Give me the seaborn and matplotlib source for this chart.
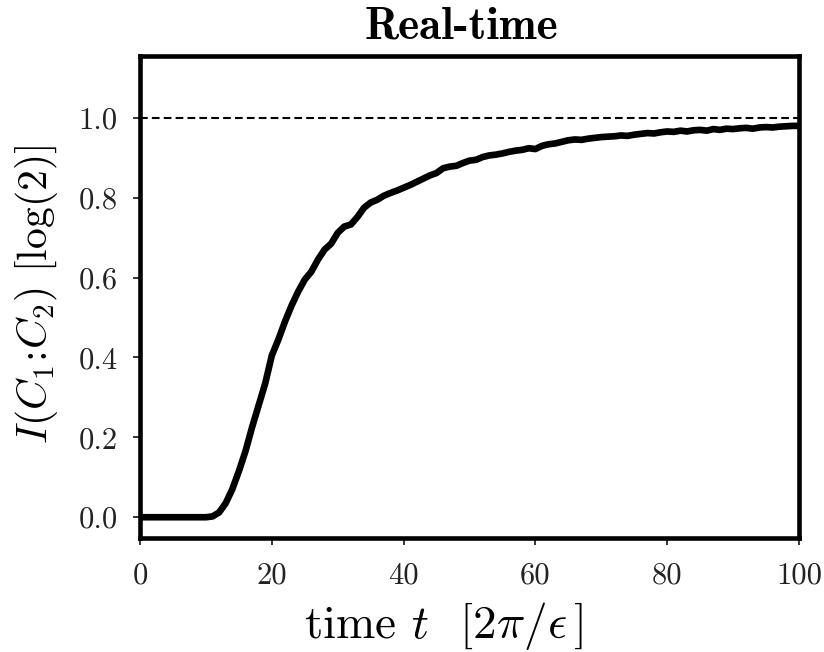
import numpy as np
import pandas as pd
import matplotlib
matplotlib.use("Agg")
import matplotlib.pyplot as plt
import seaborn as sns

time_t = list(range(0, 101))
mutual_info = [
    0.0, 0.0, 0.0, 0.0, 0.0, 0.0, 0.0, 0.0, 0.0, 0.0, 0.0,
    0.002, 0.012, 0.035, 0.070, 0.115, 0.165, 0.225, 0.280, 0.335, 0.405,
    0.445, 0.490, 0.530, 0.565, 0.595, 0.615, 0.645, 0.670, 0.685, 0.712,
    0.728, 0.733, 0.752, 0.775, 0.788, 0.795, 0.805, 0.812, 0.818, 0.825,
    0.832, 0.840, 0.848, 0.856, 0.862, 0.874, 0.878, 0.880, 0.887, 0.893,
    0.895, 0.902, 0.906, 0.908, 0.911, 0.915, 0.918, 0.920, 0.924, 0.922,
    0.930, 0.934, 0.936, 0.940, 0.944, 0.946, 0.945, 0.948, 0.950, 0.952,
    0.953, 0.954, 0.956, 0.955, 0.958, 0.960, 0.962, 0.961, 0.964, 0.966,
    0.965, 0.968, 0.966, 0.969, 0.970, 0.968, 0.972, 0.970, 0.973, 0.972,
    0.974, 0.975, 0.973, 0.976, 0.977, 0.976, 0.978, 0.979, 0.980, 0.980,
]
reference_level = 1.0
x_ticks = [0, 20, 40, 60, 80, 100]
y_ticks = [0.0, 0.2, 0.4, 0.6, 0.8, 1.0]

sns.set_theme(style="white")
plt.rcParams["font.family"] = ["cmr10", "DejaVu Serif"]
plt.rcParams["mathtext.fontset"] = "cm"
plt.rcParams["axes.formatter.use_mathtext"] = True
plt.rcParams["axes.unicode_minus"] = False
plt.rcParams["text.color"] = "black"
plt.rcParams["axes.labelcolor"] = "black"

df = pd.DataFrame({"t": time_t, "I": mutual_info})

fig, ax = plt.subplots(figsize=(8.24, 6.52), dpi=100)
fig.subplots_adjust(left=140 / 824, right=799 / 824, top=1 - 56 / 652, bottom=1 - 538 / 652)

ax.axhline(reference_level, color="black", linestyle=(0, (3.7, 2.0)), linewidth=1.5, zorder=1)
sns.lineplot(data=df, x="t", y="I", color="black", linewidth=4.8, ax=ax, zorder=2)

ax.set_xlim(0, 100)
ax.set_ylim(-0.052, 1.155)
ax.set_xticks(x_ticks)
ax.set_yticks(y_ticks)
ax.set_xticklabels([f"{v:d}" for v in x_ticks])
ax.set_yticklabels([f"{v:.1f}" for v in y_ticks])
ax.tick_params(axis="both", which="major", direction="out", length=5, width=1.1,
               labelsize=22, colors="black", bottom=True, left=True,
               top=False, right=False)
ax.tick_params(axis="x", pad=12)
ax.tick_params(axis="y", pad=11)
for lab in ax.get_xticklabels() + ax.get_yticklabels():
    lab.set_color("#222222")

for sp in ax.spines.values():
    sp.set_linewidth(3.3)
    sp.set_color("black")
    sp.set_visible(True)

ax.set_xlabel(r"time $t$  $[2\pi/\epsilon\,]$", fontsize=34)
ax.xaxis.set_label_coords(0.46, -0.128)
ax.set_ylabel(r"$I(C_1\!:\!C_2)$ $[\log(2)]$", fontsize=30)
ax.yaxis.set_label_coords(-0.121, 0.505)
ax.set_title("Real-time", fontsize=32.5, family="cmb10", color="black", pad=12.5, x=0.488)

fig.savefig("out.png", dpi=100)
